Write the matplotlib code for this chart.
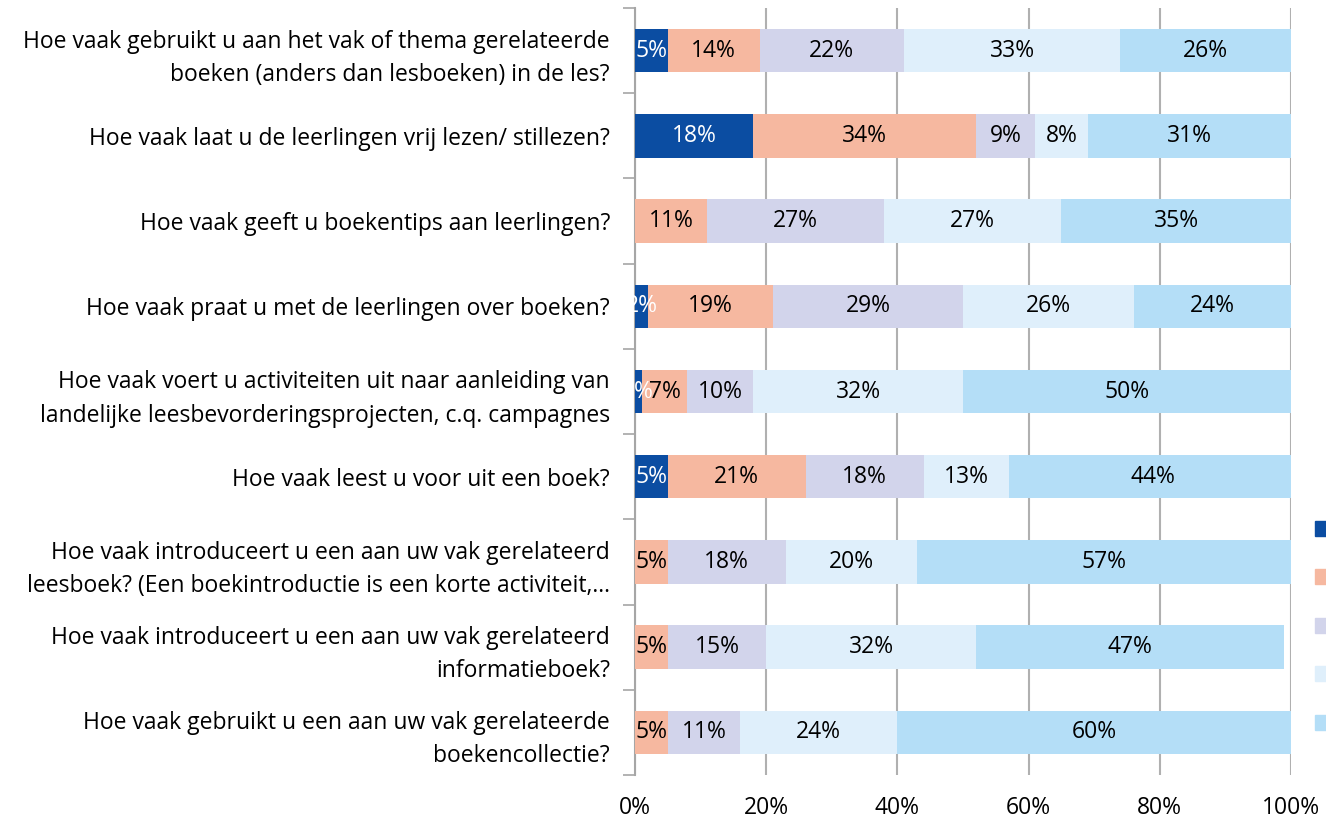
import numpy as np
import matplotlib.pyplot as plt
from matplotlib.patches import Rectangle

plt.rcParams['font.family'] = ['Open Sans', 'DejaVu Sans']

vragen = [
    "Hoe vaak gebruikt u aan het vak of thema gerelateerde\nboeken (anders dan lesboeken) in de les?",
    "Hoe vaak laat u de leerlingen vrij lezen/ stillezen?",
    "Hoe vaak geeft u boekentips aan leerlingen?",
    "Hoe vaak praat u met de leerlingen over boeken?",
    "Hoe vaak voert u activiteiten uit naar aanleiding van\nlandelijke leesbevorderingsprojecten, c.q. campagnes",
    "Hoe vaak leest u voor uit een boek?",
    "Hoe vaak introduceert u een aan uw vak gerelateerd\nleesboek? (Een boekintroductie is een korte activiteit,…",
    "Hoe vaak introduceert u een aan uw vak gerelateerd\ninformatieboek?",
    "Hoe vaak gebruikt u een aan uw vak gerelateerde\nboekencollectie?",
]

# percentages per antwoordcategorie (5 series)
serie1 = [5, 18, 0, 2, 1, 5, 0, 0, 0]
serie2 = [14, 34, 11, 19, 7, 21, 5, 5, 5]
serie3 = [22, 9, 27, 29, 10, 18, 18, 15, 11]
serie4 = [33, 8, 27, 26, 32, 13, 20, 32, 24]
serie5 = [26, 31, 35, 24, 50, 44, 57, 47, 60]

series = [serie1, serie2, serie3, serie4, serie5]
kleuren = ['#0B4DA2', '#F6B8A0', '#D2D4EB', '#DFEFFB', '#B4DEF7']
tekstkleur = ['white', 'black', 'black', 'black', 'black']

fs = 16.5

fig = plt.figure(figsize=(13.26, 8.21), dpi=100)
ax = fig.add_axes([635 / 1326, 1 - 775 / 821, 656 / 1326, 767 / 821])

y = np.arange(len(vragen))
links = np.zeros(len(vragen))
for s, kleur, tk in zip(series, kleuren, tekstkleur):
    vals = np.array(s, dtype=float)
    ax.barh(y, vals, left=links, height=0.51, color=kleur, zorder=3)
    for yi, l, v in zip(y, links, vals):
        if v > 0:
            ax.text(l + v / 2, yi, f"{int(v)}%", ha='center', va='center',
                    fontsize=fs, color=tk, zorder=4)
    links += vals

ax.set_xlim(0, 100)
ax.set_ylim(len(vragen) - 0.5, -0.5)
ax.set_xticks(np.arange(0, 101, 20))
ax.set_xticklabels([f"{v}%" for v in range(0, 101, 20)], fontsize=fs)
ax.tick_params(axis='x', length=0, pad=15)
ax.xaxis.grid(True, color='#B0B0B0', linewidth=1.5, zorder=0)

ax.set_yticks(y)
ax.set_yticklabels(vragen, fontsize=fs, linespacing=1.5)
ax.tick_params(axis='y', length=0, pad=18)
ax.set_yticks(np.arange(-0.5, len(vragen)), minor=True)
ax.tick_params(axis='y', which='minor', length=9, color='#A6A6A6', width=1.2)

for kant in ['top', 'right', 'bottom']:
    ax.spines[kant].set_visible(False)
ax.spines['left'].set_color('#A6A6A6')
ax.spines['left'].set_linewidth(1.5)

# legend markers (labels fall outside the picture)
for i, kleur in enumerate(kleuren):
    yc = 528 + i * 48.5
    fig.add_artist(Rectangle((1315 / 1326, 1 - (yc + 7.5) / 821), 14 / 1326, 15 / 821,
                             transform=fig.transFigure, color=kleur))

fig.savefig('out.png', dpi=100)
